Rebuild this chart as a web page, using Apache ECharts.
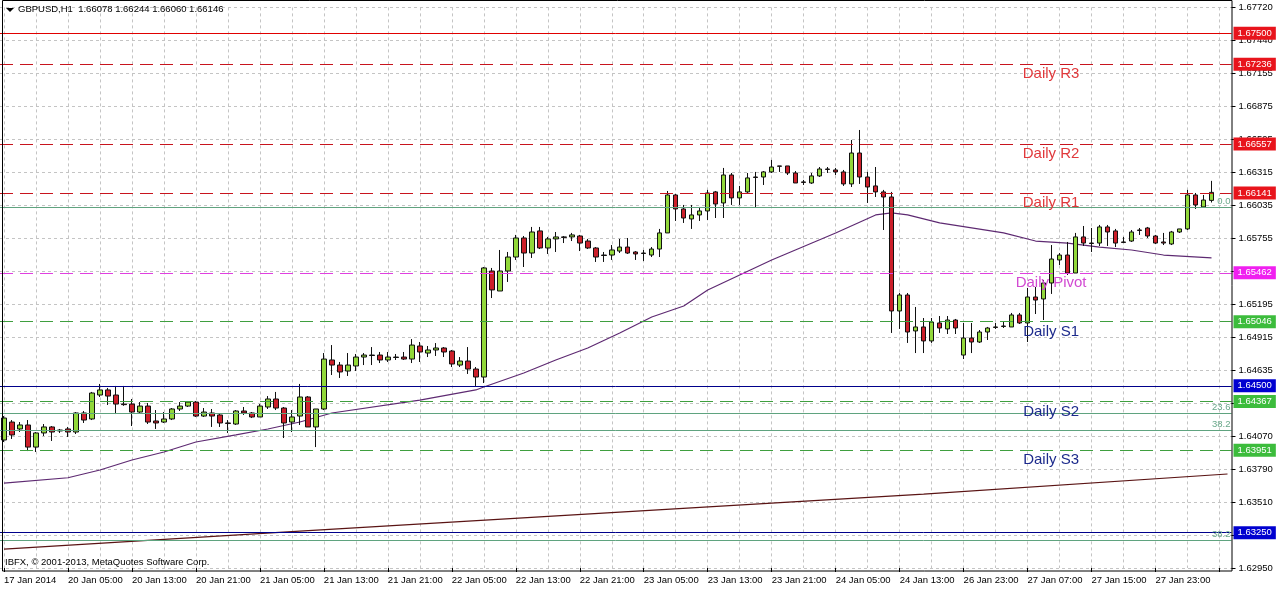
<!DOCTYPE html>
<html><head><meta charset="utf-8">
<script src="https://cdn.jsdelivr.net/npm/echarts@6/dist/echarts.min.js"></script>
<style>html,body{margin:0;padding:0;background:#fff}#c{width:1276px;height:589px}</style>
</head><body><div id="c"></div>
<script>
// ---- data ----
const timeLabels = ['17 Jan 2014','20 Jan 05:00','20 Jan 13:00','20 Jan 21:00','21 Jan 05:00','21 Jan 13:00','21 Jan 21:00','22 Jan 05:00','22 Jan 13:00','22 Jan 21:00','23 Jan 05:00','23 Jan 13:00','23 Jan 21:00','24 Jan 05:00','24 Jan 13:00','26 Jan 23:00','27 Jan 07:00','27 Jan 15:00','27 Jan 23:00'];
const priceTickLabels = ['1.62950','1.63230','1.63510','1.63790','1.64070','1.64355','1.64635','1.64915','1.65195','1.65475','1.65755','1.66035','1.66315','1.66595','1.66875','1.67155','1.67440','1.67720'];

const opens = [1.64039,1.64192,1.64133,1.64167,1.63979,1.64099,1.64150,1.64116,1.64133,1.64107,
1.64269,1.64218,1.64422,1.64465,1.64422,1.64345,1.64345,1.64277,1.64328,1.64201,
1.64192,1.64218,1.64303,1.64328,1.64362,1.64243,1.64269,1.64252,1.64184,1.64175,
1.64286,1.64269,1.64235,1.64320,1.64388,1.64311,1.64192,1.64243,1.64405,1.64150,
1.64303,1.64720,1.64677,1.64626,1.64669,1.64745,1.64762,1.64762,1.64720,1.64745,
1.64745,1.64728,1.64839,1.64779,1.64805,1.64822,1.64796,1.64677,1.64711,1.64643,
1.64575,1.65477,1.65307,1.65477,1.65596,1.65758,1.65630,1.65818,1.65673,1.65750,
1.65767,1.65767,1.65775,1.65732,1.65673,1.65613,1.65613,1.65647,1.65681,1.65639,
1.65630,1.65613,1.65664,1.65801,1.66124,1.66005,1.65920,1.65954,1.65988,1.66150,
1.66056,1.66294,1.66099,1.66150,1.66277,1.66277,1.66320,1.66371,1.66371,1.66311,
1.66235,1.66226,1.66286,1.66345,1.66337,1.66320,1.66218,1.66481,1.66277,1.66201,
1.66150,1.66107,1.65137,1.65273,1.64967,1.65001,1.64882,1.65035,1.64984,1.65060,
1.64762,1.64907,1.64873,1.64958,1.65001,1.65009,1.65001,1.65103,1.65035,1.65256,
1.65239,1.65375,1.65571,1.65613,1.65460,1.65767,1.65715,1.65715,1.65852,1.65818,
1.65724,1.65732,1.65826,1.65843,1.65775,1.65724,1.65707,1.65809,1.65835,1.66124,
1.66022,1.66078];
const closes = [1.64226,1.64082,1.64167,1.63979,1.64099,1.64150,1.64107,1.64124,1.64107,1.64269,
1.64209,1.64439,1.64465,1.64413,1.64345,1.64340,1.64277,1.64328,1.64192,1.64184,
1.64218,1.64303,1.64328,1.64362,1.64243,1.64277,1.64243,1.64184,1.64180,1.64286,
1.64269,1.64235,1.64328,1.64388,1.64311,1.64184,1.64235,1.64405,1.64150,1.64303,
1.64728,1.64677,1.64618,1.64677,1.64745,1.64762,1.64758,1.64720,1.64745,1.64741,
1.64728,1.64847,1.64788,1.64805,1.64822,1.64788,1.64686,1.64711,1.64643,1.64575,
1.65503,1.65316,1.65477,1.65596,1.65758,1.65630,1.65809,1.65673,1.65750,1.65767,
1.65763,1.65784,1.65715,1.65673,1.65596,1.65609,1.65656,1.65681,1.65630,1.65622,
1.65626,1.65664,1.65801,1.66124,1.66005,1.65928,1.65954,1.65988,1.66141,1.66047,
1.66294,1.66099,1.66150,1.66269,1.66273,1.66320,1.66362,1.66368,1.66311,1.66226,
1.66231,1.66286,1.66345,1.66341,1.66320,1.66218,1.66481,1.66277,1.66192,1.66150,
1.66107,1.65137,1.65273,1.64958,1.65001,1.64882,1.65043,1.64992,1.65060,1.64992,
1.64907,1.64873,1.64958,1.64992,1.64997,1.65005,1.65103,1.65035,1.65256,1.65230,
1.65375,1.65579,1.65613,1.65460,1.65767,1.65715,1.65711,1.65852,1.65809,1.65715,
1.65720,1.65809,1.65822,1.65775,1.65715,1.65715,1.65809,1.65835,1.66124,1.66039,
1.66081,1.66146];
const lows = [1.64022,1.64048,1.64107,1.63945,1.63937,1.64073,1.64031,1.64099,1.64065,1.64090,
1.64184,1.64209,1.64405,1.64337,1.64260,1.64330,1.64158,1.64269,1.64175,1.64133,
1.64184,1.64209,1.64286,1.64320,1.64235,1.64235,1.64150,1.64150,1.64099,1.64167,
1.64252,1.64226,1.64235,1.64303,1.64294,1.64056,1.64107,1.64167,1.64150,1.63979,
1.64294,1.64592,1.64567,1.64584,1.64626,1.64677,1.64677,1.64694,1.64703,1.64720,
1.64720,1.64694,1.64703,1.64745,1.64754,1.64745,1.64660,1.64660,1.64601,1.64499,
1.64524,1.65247,1.65307,1.65384,1.65571,1.65511,1.65588,1.65664,1.65622,1.65639,
1.65715,1.65732,1.65647,1.65664,1.65554,1.65554,1.65571,1.65630,1.65622,1.65571,
1.65562,1.65596,1.65596,1.65801,1.65903,1.65886,1.65835,1.65903,1.65911,1.65928,
1.65928,1.66039,1.66039,1.66141,1.66013,1.66209,1.66311,1.66320,1.66294,1.66226,
1.66209,1.66218,1.66277,1.66311,1.66294,1.66201,1.66192,1.66218,1.66056,1.66107,
1.65826,1.64950,1.64984,1.64865,1.64779,1.64779,1.64865,1.64950,1.64941,1.64941,
1.64728,1.64779,1.64865,1.64890,1.64984,1.64992,1.65001,1.65026,1.64873,1.65111,
1.65060,1.65282,1.65528,1.65443,1.65460,1.65690,1.65639,1.65690,1.65690,1.65681,
1.65715,1.65724,1.65784,1.65758,1.65707,1.65698,1.65698,1.65801,1.65826,1.66005,
1.66022,1.66060];
const highs = [1.64243,1.64209,1.64192,1.64209,1.64107,1.64175,1.64158,1.64133,1.64150,1.64277,
1.64286,1.64448,1.64516,1.64482,1.64499,1.64499,1.64388,1.64362,1.64354,1.64294,
1.64277,1.64311,1.64362,1.64371,1.64371,1.64311,1.64303,1.64260,1.64209,1.64294,
1.64320,1.64277,1.64345,1.64413,1.64448,1.64320,1.64294,1.64516,1.64413,1.64303,
1.64779,1.64847,1.64703,1.64779,1.64771,1.64779,1.64830,1.64788,1.64788,1.64771,
1.64788,1.64898,1.64873,1.64839,1.64864,1.64830,1.64805,1.64745,1.64830,1.64660,
1.65511,1.65503,1.65656,1.65639,1.65784,1.65775,1.65852,1.65852,1.65767,1.65809,
1.65775,1.65801,1.65784,1.65750,1.65681,1.65639,1.65698,1.65750,1.65758,1.65647,
1.65656,1.65681,1.65835,1.66158,1.66133,1.66039,1.66039,1.66022,1.66167,1.66158,
1.66354,1.66311,1.66201,1.66311,1.66320,1.66328,1.66422,1.66371,1.66371,1.66328,
1.66252,1.66311,1.66362,1.66362,1.66354,1.66337,1.66592,1.66677,1.66320,1.66362,
1.66167,1.66150,1.65290,1.65290,1.65171,1.65077,1.65077,1.65094,1.65094,1.65069,
1.65035,1.65035,1.64975,1.65001,1.65035,1.65043,1.65120,1.65120,1.65333,1.65341,
1.65401,1.65698,1.65630,1.65724,1.65801,1.65860,1.65843,1.65869,1.65869,1.65835,
1.65767,1.65826,1.65843,1.65852,1.65784,1.65801,1.65818,1.65835,1.66167,1.66141,
1.66124,1.66244];

// moving averages read at sample bars
const maFastBars = [0,8,12,16,20,24,29,33,37,41,52,59,60,65,69,73,77,81,85,88,96,104,109,111,113,117,125,129,133,137,141,145,151];
const maFastVals = [1.63673,1.63718,1.63784,1.63869,1.63937,1.64022,1.64082,1.64133,1.64192,1.64269,1.64379,1.64465,1.64490,1.64609,1.64720,1.64822,1.64950,1.65086,1.65179,1.65316,1.65571,1.65801,1.65954,1.65971,1.65954,1.65886,1.65801,1.65732,1.65715,1.65681,1.65656,1.65613,1.65588];
const maSlowBars = [0,37,77,115,153];
const maSlowVals = [1.63111,1.63264,1.63425,1.63579,1.63750];

// pivot levels
const levelNames = ['Daily R3','Daily R2','Daily R1','Daily Pivot','Daily S1','Daily S2','Daily S3'];
const levelPrices = [1.67236,1.66557,1.66141,1.65462,1.65046,1.64367,1.63951];
// solid horizontal lines
const solidPrices = [1.67500,1.64500,1.63250];
// fibonacci lines
const fibPrices = [1.66022,1.64269,1.64124,1.63182];
const fibLabels = ['0.0','23.6','38.2','38.2'];
const levelTextBar = 131;
const header = 'GBPUSD,H1  1.66078 1.66244 1.66060 1.66146';
const copyright = 'IBFX, \u00a9 2001-2013, MetaQuotes Software Corp.';

// ---- chart ----
const FONT = "'Liberation Sans', Arial, sans-serif";
const N = opens.length;
const PAD = 2;
const categories = Array.from({length: N + PAD}, (_, i) => String(i));
const levelKind = ['R','R','R','P','S','S','S'];
const lineColor = {R:'#c8141e', P:'#e040e0', S:'#3f9f3f'};
const boxColor = {R:'#e8141c', P:'#f020f0', S:'#3cbc3c'};
const textColor = {R:'#e0393c', P:'#d24ad2', S:'#1c2a8c'};
const solidColor = ['#e00000','#00008b','#00008b'];
const solidBox = ['#e8141c','#0000d0','#0000d0'];

function boxLabel(bg){
  return {show:true, position:'end', distance:2, formatter: p => Number(p.value).toFixed(5),
    color:'#fff', backgroundColor:bg, padding:[2,4,1,4], fontSize:9.5, fontFamily:FONT};
}
const markLines = [];
levelPrices.forEach((p,i)=>{
  const k = levelKind[i];
  markLines.push({yAxis:p, lineStyle:{color:lineColor[k], type:[13,7], width:1}, label:boxLabel(boxColor[k])});
});
solidPrices.forEach((p,i)=>{
  markLines.push({yAxis:p, lineStyle:{color:solidColor[i], type:'solid', width:1}, label:boxLabel(solidBox[i])});
});
fibPrices.forEach((p,i)=>{
  markLines.push({yAxis:p, lineStyle:{color:'#5fa37f', type:'solid', width:1},
    label:{show:true, position:'insideEndTop', distance:1, formatter:fibLabels[i], color:'#6aa88a', fontSize:9.5, fontFamily:FONT}});
});
const markPoints = levelNames.map((n,i)=>({
  coord:[levelTextBar, levelPrices[i]], value:n,
  label:{show:true, position:[0,3], align:'center', verticalAlign:'top', formatter:n,
    color:textColor[levelKind[i]], fontSize:15, fontFamily:FONT}
}));

const chart = echarts.init(document.getElementById('c'), null, {renderer:'canvas'});
chart.setOption({
  animation:false,
  backgroundColor:'#fff',
  grid:{left:-0.5, right:44.5, top:7.4, bottom:21, containLabel:false},
  xAxis:{type:'category', data:categories, boundaryGap:true, offset:3,
    axisLine:{show:false},
    axisTick:{show:true, interval:(i)=>i%8===0, alignWithLabel:true, length:4, lineStyle:{color:'#000'}},
    axisLabel:{interval:(i)=>i%8===0, formatter:(v,i)=>timeLabels[i/8]||'', align:'left', margin:4,
      color:'#000', fontSize:9.5, fontFamily:FONT},
    splitLine:{show:true, interval:(i)=>i%4===0, alignWithLabel:true, lineStyle:{color:'#c4c4c4', type:[3,3]}}
  },
  yAxis:[
    {type:'value', min:1.6295, max:1.6772, position:'right', show:false, splitLine:{show:false}},
    {type:'value', min:0, max:17, interval:1, position:'right',
      axisLine:{show:false},
      axisTick:{show:true, length:4, lineStyle:{color:'#000'}},
      axisLabel:{formatter:(v)=>priceTickLabels[v]||'', margin:7, color:'#000', fontSize:9.5, fontFamily:FONT},
      splitLine:{show:true, lineStyle:{color:'#c4c4c4', type:[3,3]}}}
  ],
  series:[
    {type:'line', data:[], yAxisIndex:0, z:1, silent:true,
      markLine:{symbol:['none','none'], precision:5, silent:true, data:markLines, animation:false},
      markPoint:{symbol:'circle', symbolSize:1, itemStyle:{color:'rgba(0,0,0,0)'}, data:markPoints, silent:true, animation:false}},
    {type:'line', data:maSlowBars.map((b,i)=>[b, maSlowVals[i]]), yAxisIndex:0, showSymbol:false, z:2, silent:true,
      lineStyle:{color:'#5a1414', width:1.2}},
    {type:'line', data:maFastBars.map((b,i)=>[b, maFastVals[i]]), yAxisIndex:0, showSymbol:false, z:2, silent:true,
      lineStyle:{color:'#5e2a72', width:1.2}},
    {type:'candlestick', yAxisIndex:0, z:3, barWidth:5, silent:true,
      data:opens.map((o,i)=>[o, closes[i], lows[i], highs[i]]),
      itemStyle:{color:'#92d83a', color0:'#cc1f2a', borderColor:'#111', borderColor0:'#111', borderWidth:1}}
  ],
  graphic:[
    {type:'rect', shape:{x:2.5, y:0.5, width:1229.5, height:570.5}, style:{fill:'none', stroke:'#000', lineWidth:1}, z:100, silent:true},
    {type:'polygon', shape:{points:[[6,8],[14,8],[10,12]]}, style:{fill:'#000'}, z:100},
    {type:'text', left:18, top:4, style:{text:header, fill:'#000', font:'9.5px '+FONT}, z:100},
    {type:'text', left:5, top:557, style:{text:copyright, fill:'#000', font:'9.5px '+FONT}, z:100}
  ]
});
</script>
</body></html>
